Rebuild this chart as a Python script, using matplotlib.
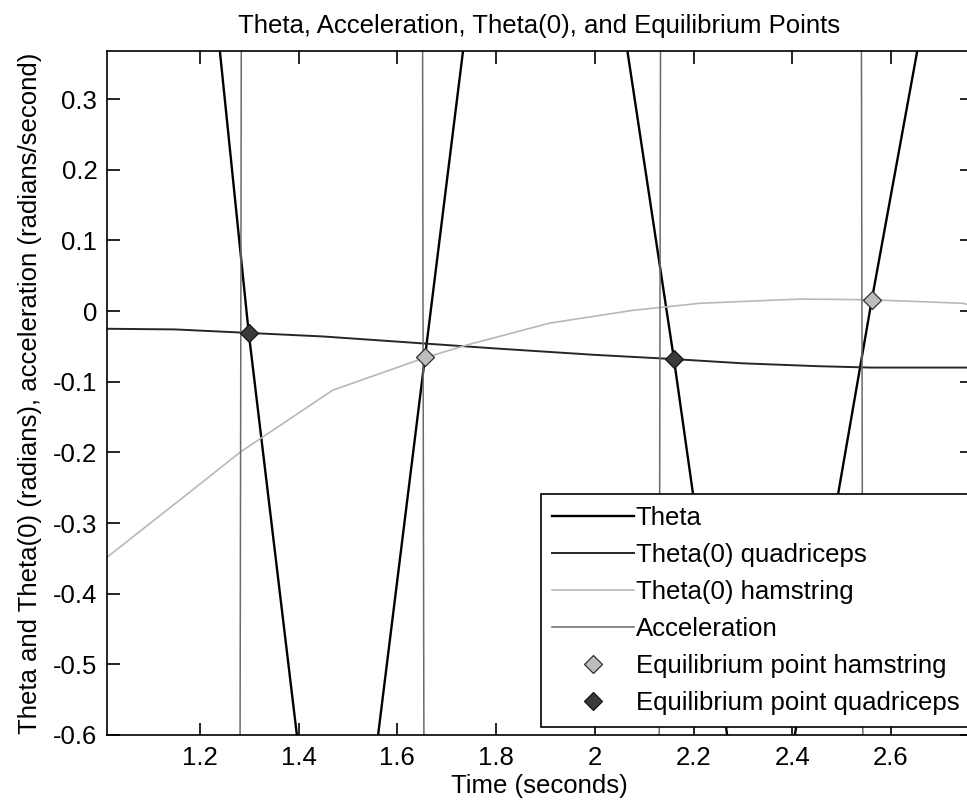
import numpy as np
import matplotlib.pyplot as plt

plt.rcParams['font.family'] = ['Liberation Sans', 'DejaVu Sans']
plt.rcParams['axes.unicode_minus'] = False

# joint angle (radians) sampled at the turning points of the trace
theta_t = [1.20, 1.2405, 1.299, 1.3965, 1.48, 1.561, 1.656, 1.733, 1.90,
           2.066, 2.160, 2.268, 2.34, 2.405, 2.4925, 2.561, 2.653, 2.78]
theta = [0.62, 0.368, -0.031, -0.60, -1.10, -0.60, -0.065, 0.368, 1.30,
         0.368, -0.067, -0.60, -1.00, -0.60, -0.26, 0.016, 0.368, 1.05]

# resting angle for the quadriceps
quad_t = [1.00, 1.15, 1.30, 1.45, 1.656, 1.80, 2.00, 2.16, 2.30, 2.45, 2.56, 2.78]
quad = [-0.025, -0.026, -0.031, -0.036, -0.046, -0.053, -0.062, -0.068,
        -0.074, -0.078, -0.080, -0.080]

# resting angle for the hamstring
ham_t = [1.00, 1.10, 1.20, 1.281, 1.469, 1.656, 1.741, 1.909, 2.077, 2.213,
         2.416, 2.557, 2.746, 2.78]
ham = [-0.355, -0.30, -0.245, -0.20, -0.112, -0.066, -0.048, -0.017, 0.001,
       0.011, 0.017, 0.016, 0.011, 0.004]

# angular acceleration, far outside the plotted range between crossings
acc_t = [1.00, 1.10, 1.283, 1.47, 1.652, 1.90, 2.132, 2.34, 2.541, 2.75, 2.78]
acc = [-40.0, -70.0, 0.0, 80.0, 0.0, -85.0, 0.0, 75.0, 0.0, -70.0, -72.0]

# equilibrium points where theta meets theta(0)
eq_ham_t = [1.656, 2.561]
eq_ham = [-0.065, 0.016]
eq_quad_t = [1.299, 2.160]
eq_quad = [-0.031, -0.068]

xticks = [1.2, 1.4, 1.6, 1.8, 2.0, 2.2, 2.4, 2.6]
xtick_labels = ['1.2', '1.4', '1.6', '1.8', '2', '2.2', '2.4', '2.6']
yticks = [-0.6, -0.5, -0.4, -0.3, -0.2, -0.1, 0, 0.1, 0.2, 0.3]
ytick_labels = ['-0.6', '-0.5', '-0.4', '-0.3', '-0.2', '-0.1', '0',
                '0.1', '0.2', '0.3']

fs = 18.5
fig = plt.figure(figsize=(9.67, 8.10), dpi=100)
ax = fig.add_axes([0.1107, 0.0926, 0.8945, 0.8444])

ax.plot(theta_t, theta, color='black', lw=1.7, label='Theta')
ax.plot(quad_t, quad, color='#262626', lw=1.4, label='Theta(0) quadriceps')
ax.plot(ham_t, ham, color='#b8b8b8', lw=1.2, label='Theta(0) hamstring')
ax.plot(acc_t, acc, color='#6a6a6a', lw=1.1, label='Acceleration')
ax.plot(eq_ham_t, eq_ham, ls='none', marker='D', ms=9, mfc='#bdbdbd',
        mec='#303030', mew=0.9, label='Equilibrium point hamstring')
ax.plot(eq_quad_t, eq_quad, ls='none', marker='D', ms=9, mfc='#3a3a3a',
        mec='#151515', mew=0.9, label='Equilibrium point quadriceps')

ax.set_xlim(1.012, 2.764)
ax.set_ylim(-0.6, 0.368)
ax.set_xticks(xticks)
ax.set_xticklabels(xtick_labels)
ax.set_yticks(yticks)
ax.set_yticklabels(ytick_labels)
ax.tick_params(direction='in', length=9, width=1.2, top=True, right=True,
               labelsize=fs, colors='black')
ax.tick_params(axis='x', pad=8)
ax.tick_params(axis='y', pad=7)
for s in ax.spines.values():
    s.set_linewidth(1.2)

ax.set_title('Theta, Acceleration, Theta(0), and Equilibrium Points',
             fontsize=fs, pad=13)
ax.set_xlabel('Time (seconds)', fontsize=fs, labelpad=3)
ax.set_ylabel('Theta and Theta(0) (radians), acceleration (radians/second)',
              fontsize=fs, labelpad=8)

leg = ax.legend(loc='lower right', bbox_to_anchor=(1.004, 0.1025),
                bbox_transform=fig.transFigure, borderaxespad=0,
                fontsize=fs, frameon=True, fancybox=False, framealpha=1,
                edgecolor='black', handlelength=3.2, handletextpad=0.05,
                labelspacing=0.51, borderpad=0.45)
leg.get_frame().set_linewidth(1.2)

fig.savefig('out.png', dpi=100, facecolor='white')
